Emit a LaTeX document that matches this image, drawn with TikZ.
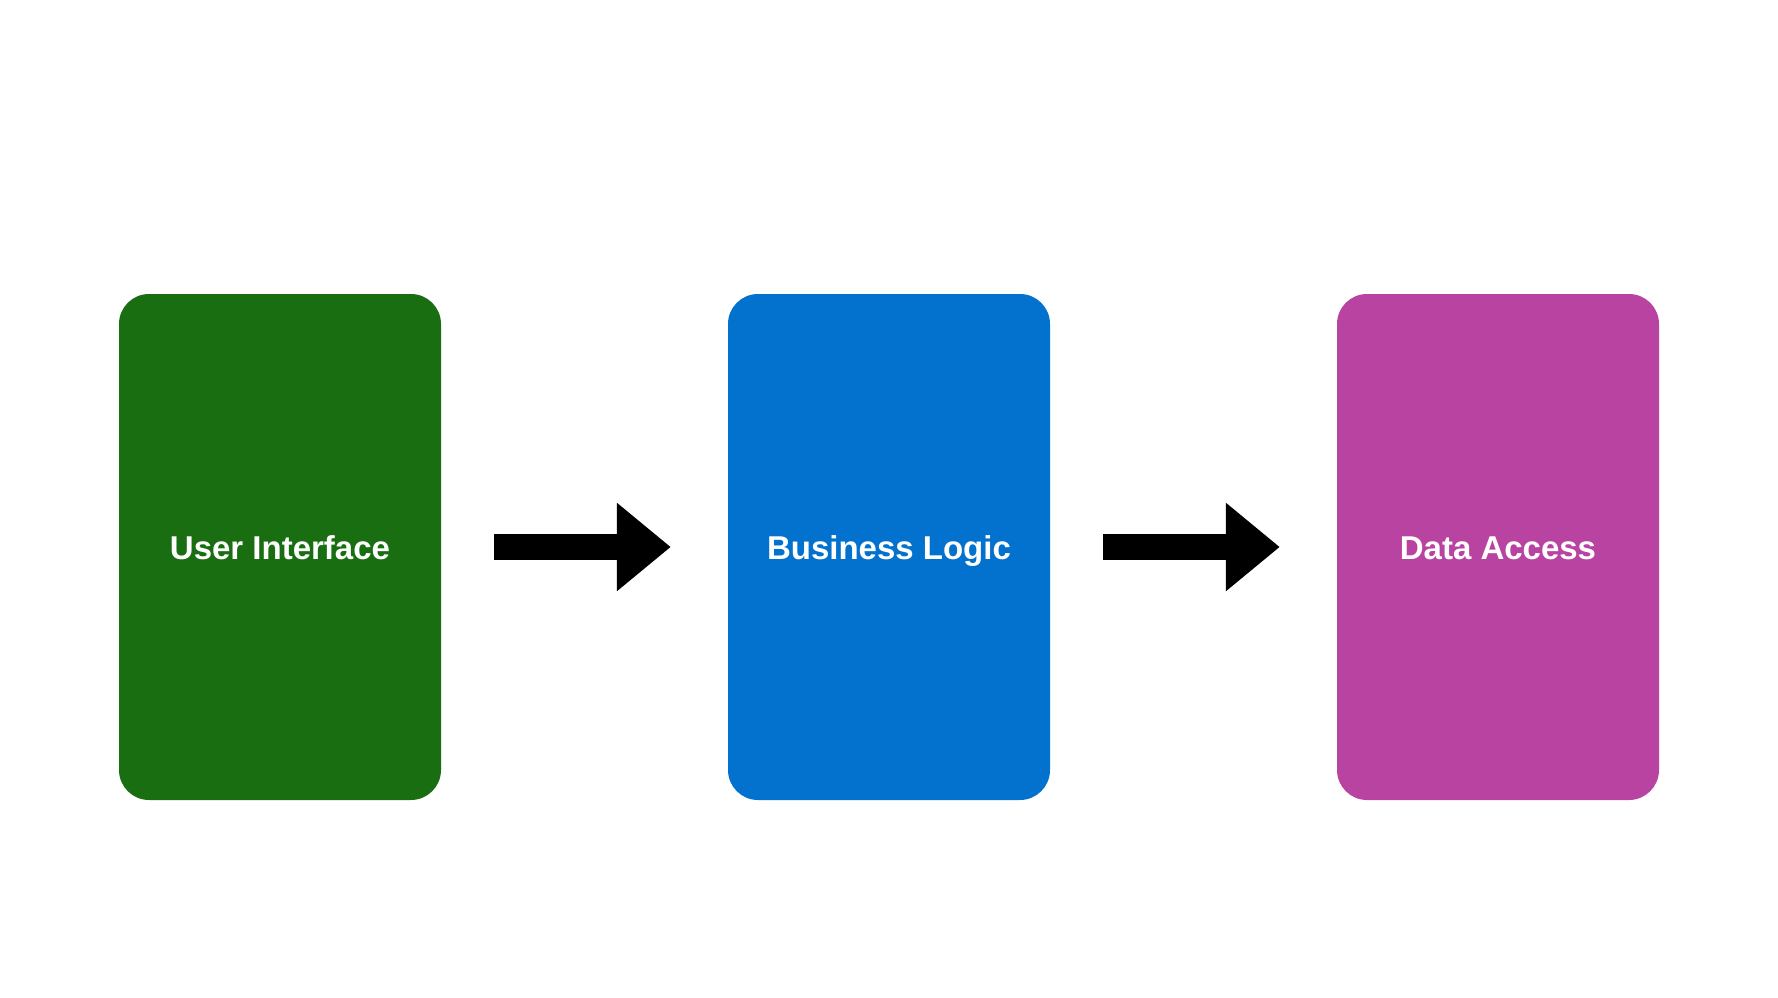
\documentclass[tikz,border=0pt]{standalone}
\usepackage{fontspec}
\setmainfont{Liberation Sans}
\usetikzlibrary{arrows.meta}
\definecolor{uigreen}{HTML}{1A6E12}
\definecolor{blblue}{HTML}{0371CE}
\definecolor{damag}{HTML}{B843A0}
\tikzset{
  layer/.style={rectangle, rounded corners=30pt, minimum width=322pt, minimum height=506pt,
    inner sep=0pt, text=white, font=\fontsize{33pt}{40pt}\selectfont\bfseries,
    text height=24pt, text depth=0pt},
  blockarrow/.style={line width=25.5pt, draw=black,
    -{Triangle[length=54pt,width=85pt]}, shorten <=53pt, shorten >=57pt}
}
\begin{document}
\begin{tikzpicture}[x=1pt,y=-1pt]
\fill[white] (0,0) rectangle (1778,998);
\useasboundingbox (0,0) rectangle (1778,998);
\node[layer, fill=uigreen] (ui) at (280,547) {User Interface};
\node[layer, fill=blblue] (bl) at (889,547) {Business Logic};
\node[layer, fill=damag] (da) at (1498,547) {Data Access};
\draw[blockarrow] (ui) -- (bl);
\draw[blockarrow] (bl) -- (da);
\end{tikzpicture}
\end{document}
